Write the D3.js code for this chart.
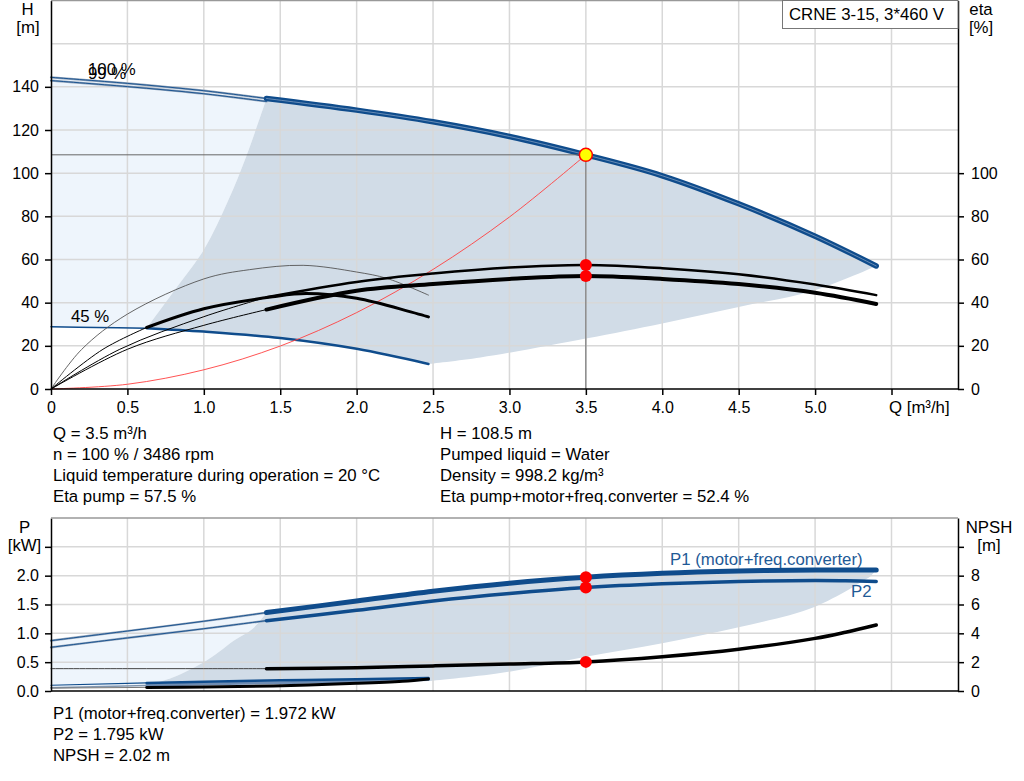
<!DOCTYPE html>
<html>
<head>
<meta charset="utf-8">
<script src="https://cdn.jsdelivr.net/npm/d3@7"></script>
<style>
  body { margin: 0; background: #fff; }
  text { font-family: "Liberation Sans", Arial, sans-serif; }
</style>
</head>
<body>
<script>
const qTicks = [0, 0.5, 1.0, 1.5, 2.0, 2.5, 3.0, 3.5, 4.0, 4.5, 5.0, 5.5];
const qTickLabels = ["0", "0.5", "1.0", "1.5", "2.0", "2.5", "3.0", "3.5", "4.0", "4.5", "5.0", ""];
const hTicks = [0, 20, 40, 60, 80, 100, 120, 140];
const hGrid = [20, 40, 60, 80, 100, 120, 140, 160];
const etaTicks = [0, 20, 40, 60, 80, 100];
const pTicks = [0, 0.5, 1.0, 1.5, 2.0, 2.5];
const pTickLabels = ["0.0", "0.5", "1.0", "1.5", "2.0", ""];
const npshTicks = [0, 2, 4, 6, 8, 10];
const npshTickLabels = ["0", "2", "4", "6", "8", ""];

// head curves
const qH100 = [0, 0.5, 1.0, 1.41, 2.0, 2.5, 3.0, 3.5, 4.0, 4.5, 5.0, 5.4];
const h100 = [144.4, 141.6, 138.2, 134.6, 129.2, 123.8, 117.0, 108.5, 98.8, 85.8, 70.8, 57.0];
const qH99 = [0, 0.5, 1.0, 1.41];
const h99 = [142.9, 140.1, 136.8, 133.2];
const qH45 = [0, 0.3, 0.626, 1.0, 1.5, 2.0, 2.47];
const h45 = [28.8, 28.5, 28.2, 26.6, 23.6, 18.6, 11.6];
const qSys = [0, 0.5, 1.0, 1.5, 2.0, 2.5, 3.0, 3.5];
const hSys = [0, 2.2, 8.9, 19.9, 35.4, 55.4, 79.7, 108.5];

// operating range boundaries (top)
const qLeftB = [0.626, 0.8, 1.0, 1.16, 1.28, 1.41];
const hLeftB = [28.2, 45, 64.5, 87.4, 108.2, 134.6];
const qBottomB = [2.47, 2.81, 3.5, 4.0, 4.5, 5.0, 5.4];
const hBottomB = [11.6, 14.6, 23.4, 30.4, 38, 45.8, 57.0];

// efficiency curves
const qEtaP100 = [0, 0.45, 1.0, 1.41, 2.0, 2.5, 3.0, 3.5, 4.0, 4.5, 5.0, 5.4];
const etaP100 = [0, 18.4, 33.5, 42.5, 49.6, 53.5, 56.3, 57.5, 56.0, 53.2, 48.4, 43.5];
const qEtaT100 = [0, 0.5, 1.0, 1.41, 2.0, 2.5, 3.0, 3.5, 4.0, 4.5, 5.0, 5.4];
const etaT100 = [0, 18.4, 29.5, 36.8, 45.5, 48.6, 51.0, 52.4, 51.0, 48.6, 44.6, 39.4];
const qEtaP45 = [0, 0.2, 0.5, 1.0, 1.3, 1.65, 2.0, 2.2, 2.47];
const etaP45 = [0, 18.3, 34.7, 51.0, 55.3, 57.3, 54.2, 51.2, 43.5];
const qEtaT45 = [0, 0.34, 0.626, 1.0, 1.45, 1.67, 2.0, 2.47];
const etaT45 = [0, 18.4, 28.5, 37.2, 42.7, 44.2, 42.0, 33.4];

// power and NPSH curves
const qP = [0, 0.5, 1.0, 1.41, 2.0, 2.5, 3.0, 3.5, 4.0, 4.5, 5.0, 5.2, 5.4];
const p1 = [0.873, 1.04, 1.21, 1.36, 1.56, 1.73, 1.87, 1.972, 2.04, 2.08, 2.10, 2.10, 2.10];
const p2 = [0.758, 0.92, 1.08, 1.22, 1.40, 1.56, 1.69, 1.795, 1.86, 1.90, 1.915, 1.91, 1.90];
const npsh = [1.55, 1.55, 1.55, 1.55, 1.62, 1.74, 1.87, 2.02, 2.38, 2.9, 3.65, 4.08, 4.58];
const qP45 = [0, 0.626, 1.0, 1.5, 2.0, 2.47];
const p1_45 = [0.10, 0.14, 0.16, 0.185, 0.205, 0.225];
const p2_45 = [0.055, 0.095, 0.12, 0.145, 0.17, 0.20];
const qN45 = [0, 0.626, 1.0, 1.455, 2.0, 2.3, 2.47];
const npsh45 = [0.2, 0.25, 0.28, 0.35, 0.53, 0.68, 0.84];

// operating range boundaries (bottom)
const qLeftB2 = [0.626, 0.8, 1.0, 1.1, 1.2, 1.32, 1.41];
const pLeftB2 = [0.095, 0.24, 0.5, 0.68, 0.88, 1.08, 1.36];
const qBottomB2 = [2.47, 2.94, 3.5, 4.0, 4.5, 5.0, 5.36];
const pBottomB2 = [0.17, 0.31, 0.595, 0.83, 1.105, 1.46, 1.98];

// duty point
const opQ = 3.5, opH = 108.5, opEtaP = 57.5, opEtaT = 52.4;
const opP1 = 1.972, opP2 = 1.795, opNpsh = 2.02;

const infoLeft = ["Q = 3.5 m³/h", "n = 100 % / 3486 rpm", "Liquid temperature during operation = 20 °C", "Eta pump = 57.5 %"];
const infoRight = ["H = 108.5 m", "Pumped liquid = Water", "Density = 998.2 kg/m³", "Eta pump+motor+freq.converter = 52.4 %"];
const infoBottom = ["P1 (motor+freq.converter) = 1.972 kW", "P2 = 1.795 kW", "NPSH = 2.02 m"];

// ---- drawing ----
const blue = "#0f4c8c";
const gridColor = "#d8d8d8";
const fs = "16.8px";

const svg = d3.select("body").append("svg").attr("width", 1024).attr("height", 781);

const x = d3.scaleLinear().domain([0, 5.5]).range([51, 891.5]);
const xL = 51, xR = 958;
const yH = d3.scaleLinear().domain([0, 180]).range([389, 0.5]);
const yP = d3.scaleLinear().domain([0, 3]).range([691, 518]);
const yN = d3.scaleLinear().domain([0, 12]).range([691, 518]);

const pts = (q, v) => d3.zip(q, v);
const upto = (p, q0) => p.filter(d => d[0] <= q0);
const from = (p, q0) => p.filter(d => d[0] >= q0);
const between = (p, a, b) => p.filter(d => d[0] >= a && d[0] <= b);
const rev = p => p.slice().reverse();

function gen(ys) {
  return d3.line().x(d => x(d[0])).y(d => ys(d[1])).curve(d3.curveCatmullRom.alpha(0.5));
}
function joined(ys, parts) {
  const g = gen(ys);
  return parts.map((p, i) => { const s = g(p); return i ? "L" + s.slice(1) : s; }).join("") + "Z";
}
function curve(ys, p, color, width) {
  svg.append("path").attr("d", gen(ys)(p)).attr("fill", "none")
    .attr("stroke", color).attr("stroke-width", width)
    .attr("stroke-linecap", "round").attr("stroke-linejoin", "round");
}
function doubleThin(ys, p) {
  curve(ys, p, "#93a5bb", 2.2);
  curve(ys, p, blue, 0.9);
}

const H100 = pts(qH100, h100), H99 = pts(qH99, h99), H45 = pts(qH45, h45);
const LB = pts(qLeftB, hLeftB), BB = pts(qBottomB, hBottomB);
const P1 = pts(qP, p1), P2 = pts(qP, p2), NP = pts(qP, npsh);
const P145 = pts(qP45, p1_45), P245 = pts(qP45, p2_45), NP45 = pts(qN45, npsh45);
const LB2 = pts(qLeftB2, pLeftB2), BB2 = pts(qBottomB2, pBottomB2);

// ---- top chart: regions ----
svg.append("path")
  .attr("d", joined(yH, [upto(H100, 1.41), rev(LB), rev(upto(H45, 0.626))]))
  .attr("fill", "#eef5fc");
svg.append("path")
  .attr("d", joined(yH, [from(H100, 1.41), rev(BB), rev(between(H45, 0.626, 2.47)), LB]))
  .attr("fill", "#d1dce7");

// grid
svg.append("g").selectAll("line").data(hGrid).join("line")
  .attr("x1", xL).attr("x2", xR).attr("y1", d => yH(d)).attr("y2", d => yH(d))
  .attr("stroke", gridColor).attr("stroke-width", 1.5);
svg.append("g").selectAll("line").data(qTicks.slice(1)).join("line")
  .attr("x1", d => x(d)).attr("x2", d => x(d)).attr("y1", 0.5).attr("y2", 389)
  .attr("stroke", gridColor).attr("stroke-width", 1.5);

// curves
curve(yH, upto(H45, 0.626), blue, 1.5);
curve(yH, from(H45, 0.626), blue, 2.5);
curve(yH, pts(qSys, hSys), "#ff4040", 0.9);
curve(yH, pts(qEtaP45, etaP45), "#555", 0.9);
const ET45 = pts(qEtaT45, etaT45);
curve(yH, upto(ET45, 0.626), "#000", 1);
curve(yH, from(ET45, 0.626), "#000", 3);
const EP100 = pts(qEtaP100, etaP100);
curve(yH, upto(EP100, 1.41), "#000", 1);
curve(yH, from(EP100, 1.41), "#000", 2.5);
const ET100 = pts(qEtaT100, etaT100);
curve(yH, upto(ET100, 1.41), "#000", 1);
curve(yH, from(ET100, 1.41), "#000", 4);
doubleThin(yH, H99);
doubleThin(yH, upto(H100, 1.41));
curve(yH, from(H100, 1.41), blue, 5.5);
curve(yH, from(H100, 1.41), "#7d9cc0", 0.8);

// duty point lines
svg.append("line").attr("x1", xL).attr("x2", x(opQ)).attr("y1", yH(opH)).attr("y2", yH(opH))
  .attr("stroke", "#666").attr("stroke-width", 1);
svg.append("line").attr("x1", x(opQ)).attr("x2", x(opQ)).attr("y1", yH(opH)).attr("y2", yH(0))
  .attr("stroke", "#666").attr("stroke-width", 1);

svg.selectAll(".etaDot").data([opEtaP, opEtaT]).join("circle")
  .attr("cx", x(opQ)).attr("cy", d => yH(d)).attr("r", 6).attr("fill", "#ff0000");
svg.append("circle").attr("cx", x(opQ)).attr("cy", yH(opH)).attr("r", 6.5)
  .attr("fill", "#ffff00").attr("stroke", "#ff0000").attr("stroke-width", 1.5);

// axes
function styleAxis(g) {
  g.selectAll(".tick line").attr("stroke", "#000").attr("stroke-width", 1.5);
  g.selectAll(".tick text").attr("font-size", "16px").attr("fill", "#000")
    .attr("font-family", "'Liberation Sans', Arial, sans-serif");
  g.select(".domain").attr("stroke", "#000").attr("stroke-width", 1.5);
}
svg.append("g").attr("transform", `translate(${xL},0)`)
  .call(d3.axisLeft(yH).tickValues(hTicks).tickSize(6).tickSizeOuter(0).tickPadding(6))
  .call(styleAxis);
svg.append("g").attr("transform", `translate(${xR},0)`)
  .call(d3.axisRight(yH).tickValues(etaTicks).tickSize(6).tickSizeOuter(0).tickPadding(7))
  .call(styleAxis);
svg.append("g").attr("transform", "translate(0,389)")
  .call(d3.axisBottom(x).tickValues(qTicks).tickFormat((d, i) => qTickLabels[i]).tickSize(6).tickSizeOuter(0).tickPadding(7))
  .call(styleAxis)
  .call(g => g.select(".domain").remove());
svg.append("line").attr("x1", xL).attr("x2", xR).attr("y1", 389).attr("y2", 389)
  .attr("stroke", "#000").attr("stroke-width", 1.5);
svg.append("line").attr("x1", xL).attr("x2", xR).attr("y1", 0.5).attr("y2", 0.5)
  .attr("stroke", "#999").attr("stroke-width", 1.5);

// legend box
svg.append("rect").attr("x", 782.5).attr("y", 0.5).attr("width", xR - 782.5).attr("height", 28)
  .attr("fill", "#fff").attr("stroke", "#777").attr("stroke-width", 1);
svg.append("text").attr("x", 789).attr("y", 20).attr("font-size", fs).text("CRNE 3-15, 3*460 V");

// axis titles and curve labels
const label = (tx, ty, s, anchor, color) => svg.append("text").attr("x", tx).attr("y", ty)
  .attr("font-size", fs).attr("text-anchor", anchor || "start").attr("fill", color || "#000").text(s);
label(27.5, 15, "H", "middle");
label(28, 33, "[m]", "middle");
label(981, 15, "eta", "middle");
label(981, 33, "[%]", "middle");
label(889, 413, "Q [m³/h]");
label(88, 75, "100 %");
label(88, 79, "99 %");
label(71, 322, "45 %");

infoLeft.forEach((s, i) => label(53, 439 + i * 21, s));
infoRight.forEach((s, i) => label(440, 439 + i * 21, s));

// ---- bottom chart ----
svg.append("path")
  .attr("d", joined(yP, [upto(P1, 1.41), rev(LB2), rev(upto(P245, 0.626))]))
  .attr("fill", "#eef5fc");
svg.append("path")
  .attr("d", joined(yP, [from(P1, 1.41), rev(BB2), rev(from(P245, 0.626)), LB2]))
  .attr("fill", "#d1dce7");

svg.append("g").selectAll("line").data(pTicks.slice(1)).join("line")
  .attr("x1", xL).attr("x2", xR).attr("y1", d => yP(d)).attr("y2", d => yP(d))
  .attr("stroke", gridColor).attr("stroke-width", 1.5);
svg.append("g").selectAll("line").data(qTicks.slice(1)).join("line")
  .attr("x1", d => x(d)).attr("x2", d => x(d)).attr("y1", 518).attr("y2", 691)
  .attr("stroke", gridColor).attr("stroke-width", 1.5);

curve(yP, upto(P245, 0.626), "#8296ae", 1.5);
curve(yP, from(P245, 0.626), "#6f8db3", 3);
curve(yP, upto(P145, 0.626), blue, 1.2);
curve(yP, from(P145, 0.626), blue, 2.5);
curve(yN, upto(NP45, 0.626), "#777", 1);
curve(yN, from(NP45, 0.626), "#000", 3);
curve(yN, upto(NP, 1.41), "#444", 1);
curve(yN, from(NP, 1.41), "#000", 3.5);
doubleThin(yP, upto(P2, 1.41));
curve(yP, from(P2, 1.41), blue, 3.5);
doubleThin(yP, upto(P1, 1.41));
curve(yP, from(P1, 1.41), blue, 5);

svg.selectAll(".pDot").data([opP1, opP2]).join("circle")
  .attr("cx", x(opQ)).attr("cy", d => yP(d)).attr("r", 6).attr("fill", "#ff0000");
svg.append("circle").attr("cx", x(opQ)).attr("cy", yN(opNpsh)).attr("r", 6).attr("fill", "#ff0000");

svg.append("g").attr("transform", `translate(${xL},0)`)
  .call(d3.axisLeft(yP).tickValues(pTicks).tickFormat((d, i) => pTickLabels[i]).tickSize(6).tickSizeOuter(0).tickPadding(6))
  .call(styleAxis);
svg.append("g").attr("transform", `translate(${xR},0)`)
  .call(d3.axisRight(yN).tickValues(npshTicks).tickFormat((d, i) => npshTickLabels[i]).tickSize(6).tickSizeOuter(0).tickPadding(7))
  .call(styleAxis);
svg.append("line").attr("x1", xL).attr("x2", xR).attr("y1", 691).attr("y2", 691)
  .attr("stroke", "#000").attr("stroke-width", 1.5);
svg.append("line").attr("x1", xL).attr("x2", xR).attr("y1", 518).attr("y2", 518)
  .attr("stroke", "#999").attr("stroke-width", 1.5);

label(24.5, 533, "P", "middle");
label(24.5, 551, "[kW]", "middle");
label(989, 533, "NPSH", "middle");
label(989, 551, "[m]", "middle");
label(670, 565, "P1 (motor+freq.converter)", "start", "#1f5a96");
label(851, 597, "P2", "start", "#1f5a96");

infoBottom.forEach((s, i) => label(53, 719 + i * 21, s));
</script>
</body>
</html>
